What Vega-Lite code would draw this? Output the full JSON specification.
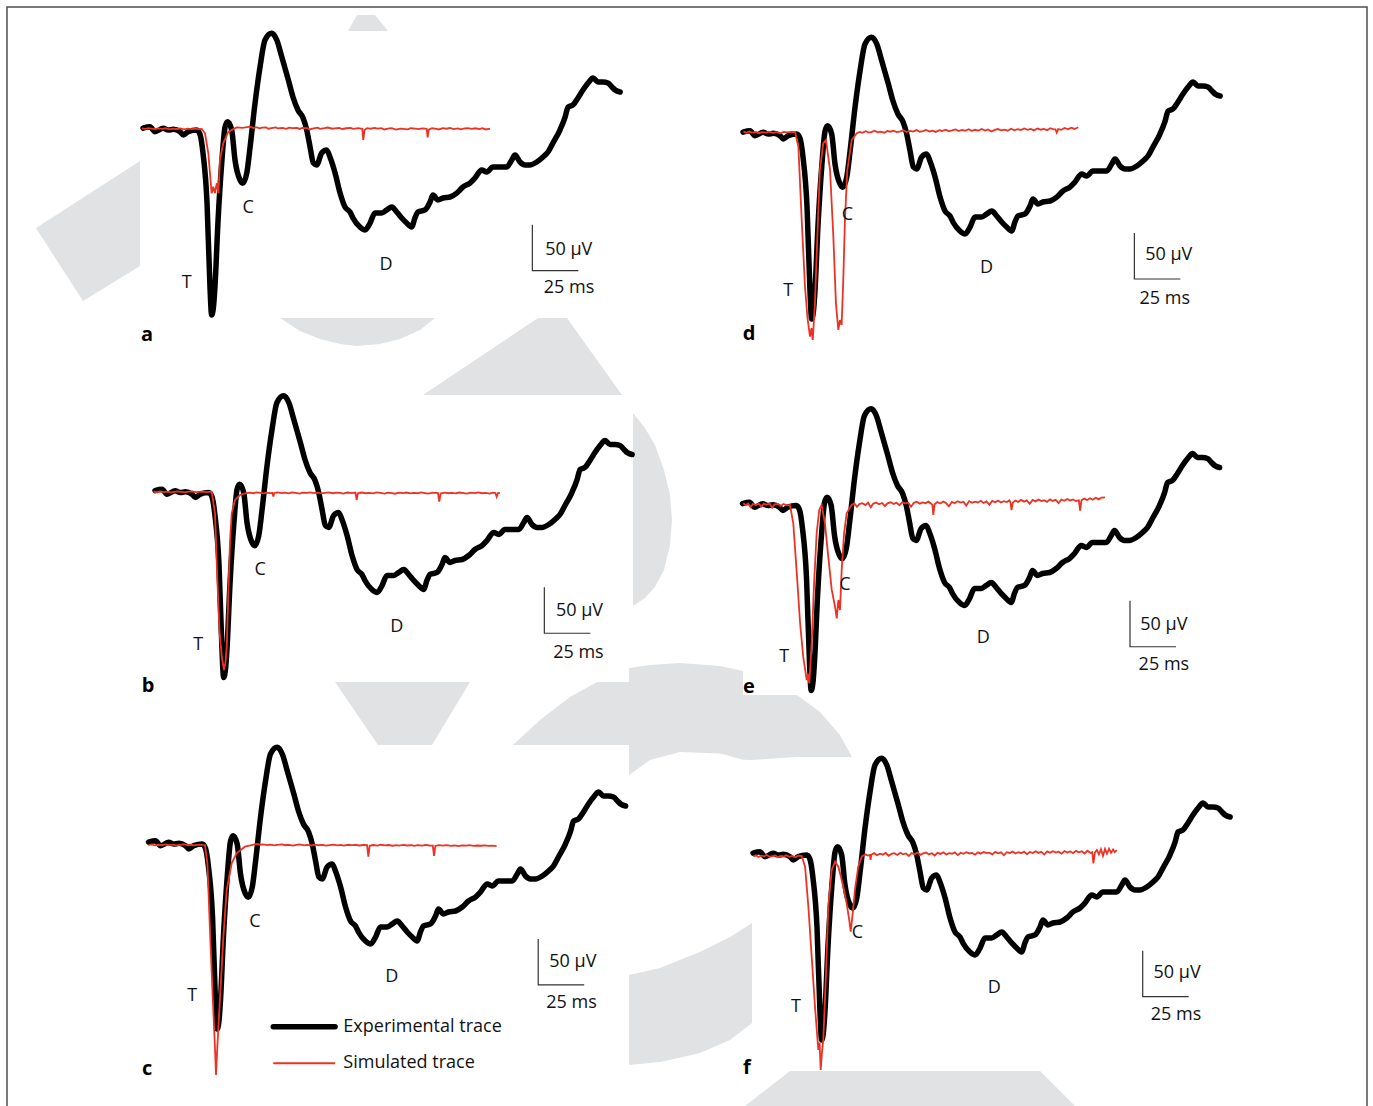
{
  "$schema": "https://vega.github.io/schema/vega-lite/v6.json",
  "padding": 0,
  "background": "#ffffff",
  "columns": 2,
  "spacing": 0,
  "align": "each",
  "bounds": "flush",
  "config": {"view": {"stroke": null}, "font": "Open Sans", "text": {"font": "Open Sans"}},
  "datasets": {
    "exp": [
      {"t":0,"v":1},{"t":3.8,"v":2.5},{"t":6.5,"v":-2.9},{"t":11,"v":0.7},{"t":13.8,"v":-1.1},{"t":16.5,"v":-0.4},{"t":20.1,"v":-2.9},{"t":21.9,"v":-6.5},{"t":24.6,"v":-2.9},{"t":29.2,"v":-1.1},{"t":31,"v":-6},{"t":32.6,"v":-26.1},{"t":34.8,"v":-80.4},{"t":36.4,"v":-171.7},{"t":37.3,"v":-202.2},{"t":38.2,"v":-195},{"t":39.1,"v":-171.7},{"t":40.8,"v":-98.9},{"t":42.9,"v":-33.7},{"t":44.6,"v":2.2},{"t":46,"v":7.9},{"t":48.2,"v":-1.1},{"t":50,"v":-33.7},{"t":52.7,"v":-55.4},{"t":54.2,"v":-59},{"t":56.4,"v":-47.8},{"t":58.2,"v":-19.6},{"t":60.9,"v":28.3},{"t":63.6,"v":67.4},{"t":66.3,"v":96.7},{"t":69.9,"v":104},{"t":72.7,"v":96.7},{"t":75.4,"v":78.6},{"t":79,"v":53.3},{"t":81.5,"v":34.8},{"t":84.2,"v":20.7},{"t":87,"v":12},{"t":89,"v":-1.1},{"t":90.8,"v":-19.6},{"t":92.6,"v":-37},{"t":94.4,"v":-39.1},{"t":97.1,"v":-26.1},{"t":99.8,"v":-22.8},{"t":101.6,"v":-30.4},{"t":104.4,"v":-47.8},{"t":107.1,"v":-69.6},{"t":109.8,"v":-84.8},{"t":112.5,"v":-90.2},{"t":114.1,"v":-96.7},{"t":117.9,"v":-106.5},{"t":120.7,"v":-109.8},{"t":123.4,"v":-102.2},{"t":126.1,"v":-91.3},{"t":129.7,"v":-91.3},{"t":132.5,"v":-88},{"t":135.2,"v":-84.8},{"t":137.9,"v":-90.2},{"t":140.6,"v":-96.7},{"t":143.3,"v":-102.2},{"t":146,"v":-106.5},{"t":147.8,"v":-96.7},{"t":149.5,"v":-90.2},{"t":153.3,"v":-88},{"t":156,"v":-79.4},{"t":157.6,"v":-71.7},{"t":160.3,"v":-77.2},{"t":163,"v":-75},{"t":166.9,"v":-73.9},{"t":170.5,"v":-69.6},{"t":173.9,"v":-63},{"t":177.7,"v":-58.7},{"t":180.4,"v":-53.3},{"t":184.1,"v":-44.6},{"t":186.8,"v":-46.7},{"t":190.2,"v":-41.3},{"t":194,"v":-41.3},{"t":197.7,"v":-41.3},{"t":200.4,"v":-33.7},{"t":202.2,"v":-28.3},{"t":204.9,"v":-35.9},{"t":207.6,"v":-39.1},{"t":210.3,"v":-39.1},{"t":214,"v":-35.9},{"t":217.4,"v":-30.4},{"t":220.1,"v":-25},{"t":222.8,"v":-15.2},{"t":226.6,"v":-1.1},{"t":229.4,"v":13},{"t":231,"v":23.9},{"t":233.7,"v":26.1},{"t":236.4,"v":33.7},{"t":239.1,"v":42.4},{"t":241.9,"v":50},{"t":244.6,"v":55.4},{"t":247.3,"v":51.1},{"t":250,"v":51.1},{"t":252.7,"v":50},{"t":254.9,"v":45.7},{"t":256.6,"v":42.4},{"t":259.3,"v":40.2}
    ]
  },
  "concat": [
    {
      "width": 686,
      "height": 368,
      "encoding": {
        "x": {"field": "t", "type": "quantitative", "scale": {"domain": [-77.72, 295.11], "nice": false, "zero": false}, "axis": null},
        "y": {"field": "v", "type": "quantitative", "scale": {"domain": [-259.78, 140.22], "nice": false, "zero": false}, "axis": null}
      },
      "layer": [
        {"data": {"values": [
          {"g":"A","t":-58.15,"v":-107.61,"v2":-107.61},{"g":"A","t":-32.61,"v":-74.67,"v2":-186.95},{"g":"A","t":-1.63,"v":-34.78,"v2":-148.91},
          {"g":"B","t":111.41,"v":106.52,"v2":106.52},{"g":"B","t":116.3,"v":123.92,"v2":106.52},{"g":"B","t":126.09,"v":123.92,"v2":106.52},{"g":"B","t":133.15,"v":106.52,"v2":106.52},
          {"g":"C","t":74.45,"v":-205.43,"v2":-205.43},{"g":"C","t":85.32,"v":-205.43,"v2":-219.57},{"g":"C","t":96.19,"v":-205.43,"v2":-228.26},{"g":"C","t":107.06,"v":-205.43,"v2":-233.7},{"g":"C","t":116.3,"v":-205.43,"v2":-235.87},{"g":"C","t":128.8,"v":-205.43,"v2":-233.7},{"g":"C","t":139.67,"v":-205.43,"v2":-228.26},{"g":"C","t":150.54,"v":-205.43,"v2":-218.48},{"g":"C","t":158.7,"v":-205.43,"v2":-205.43},
          {"g":"D","t":152.17,"v":-289.13,"v2":-289.13},{"g":"D","t":214.67,"v":-205.43,"v2":-289.13},{"g":"D","t":230.43,"v":-205.43,"v2":-289.13},{"g":"D","t":260.33,"v":-289.13,"v2":-289.13}
        ]}, "mark": {"type": "area", "color": "#e1e2e4", "clip": true}, "encoding": {"y": {"field": "v", "type": "quantitative", "stack": null}, "y2": {"field": "v2"}, "detail": {"field": "g"}}},
        {"data": {"values": [{"k":1,"t":-73.92,"v":-259.78},{"k":2,"t":-73.92,"v":132.6},{"k":3,"t":295.11,"v":132.6}]}, "mark": {"type": "line", "stroke": "#4d4d4d", "strokeWidth": 1.5}, "encoding": {"order": {"field": "k"}}},
        {"data": {"name": "exp"}, "mark": {"type": "line", "stroke": "#000000", "strokeWidth": 5.5, "interpolate": "monotone", "strokeJoin": "round", "strokeCap": "round"}},
        {"data": {"values": [{"t":-0.7,"v":0.8},{"t":1.3,"v":0.2},{"t":2.9,"v":0.9},{"t":4.6,"v":0.4},{"t":6.8,"v":-0.2},{"t":8.3,"v":0.6},{"t":10.5,"v":0.1},{"t":12.2,"v":0.8},{"t":14.4,"v":-0.3},{"t":16.1,"v":0.4},{"t":18.6,"v":0.0},{"t":20.3,"v":0.7},{"t":22.2,"v":-0.4},{"t":24.5,"v":0.3},{"t":26.1,"v":-0.1},{"t":28.4,"v":0.5},{"t":30.2,"v":-0.2},{"t":31.9,"v":0},{"t":33.7,"v":-4.7},{"t":35.5,"v":-26.4},{"t":36.4,"v":-48.2},{"t":37.3,"v":-69.9},{"t":38.2,"v":-62.7},{"t":39.1,"v":-69.6},{"t":40.1,"v":-59},{"t":41,"v":-69.9},{"t":41.8,"v":-33.7},{"t":43.6,"v":-15.5},{"t":46.4,"v":-2.9},{"t":50.9,"v":1.8},{"t":54,"v":1.2},{"t":58.2,"v":2.5},{"t":60.1,"v":1.0},{"t":61.4,"v":1.9},{"t":63.5,"v":0.7},{"t":64.6,"v":1.4},{"t":66.9,"v":1.6},{"t":68.2,"v":0.3},{"t":70.6,"v":1.2},{"t":72.1,"v":1.8},{"t":73.3,"v":0.6},{"t":75.8,"v":1.1},{"t":77.9,"v":0.2},{"t":79.4,"v":1.5},{"t":81.2,"v":0.9},{"t":83.7,"v":1.3},{"t":85.1,"v":0.1},{"t":86.6,"v":1.2},{"t":89.3,"v":1.0},{"t":90.5,"v":-0.5},{"t":92.8,"v":0.8},{"t":94.9,"v":1.4},{"t":96.2,"v":0.2},{"t":98.7,"v":0.9},{"t":100.4,"v":1.6},{"t":102.9,"v":0.3},{"t":104.1,"v":0.7},{"t":106.6,"v":1.1},{"t":108.3,"v":0.0},{"t":110.5,"v":0.8},{"t":112.8,"v":1.3},{"t":114.2,"v":0.2},{"t":116.9,"v":0.9},{"t":118.5,"v":0.4},{"t":119.2,"v":0.2},{"t":119.7,"v":-12},{"t":120.4,"v":-1},{"t":121.8,"v":0.9},{"t":123.5,"v":0.3},{"t":125.9,"v":1.2},{"t":127.4,"v":0.4},{"t":129.6,"v":0.9},{"t":131.1,"v":-0.5},{"t":133.8,"v":0.6},{"t":135.2,"v":1.0},{"t":137.4,"v":-0.6},{"t":139.9,"v":0.5},{"t":141.3,"v":0.2},{"t":143.8,"v":-0.4},{"t":145.5,"v":0.8},{"t":147.9,"v":0.3},{"t":149.6,"v":-0.2},{"t":151.8,"v":0.7},{"t":153.5,"v":0.4},{"t":154.2,"v":0},{"t":154.7,"v":-9.1},{"t":155.3,"v":-0.8},{"t":157.1,"v":0.8},{"t":159.4,"v":0.1},{"t":160.8,"v":-0.5},{"t":162.9,"v":0.9},{"t":165.1,"v":0.3},{"t":166.7,"v":1.1},{"t":168.8,"v":-0.1},{"t":171.2,"v":0.7},{"t":172.6,"v":-0.4},{"t":174.9,"v":0.6},{"t":176.5,"v":1.0},{"t":178.8,"v":0.1},{"t":180.6,"v":0.8},{"t":182.9,"v":-0.2},{"t":184.4,"v":0.9},{"t":186.3,"v":-0.5},{"t":188.6,"v":0.5}]}, "mark": {"type": "line", "stroke": "#ec3323", "strokeWidth": 1.8}},
        {"data": {"values": [{"k":1,"t":211.6,"v":-104},{"k":2,"t":211.6,"v":-154},{"k":3,"t":236.6,"v":-154}]}, "mark": {"type": "line", "stroke": "#333333", "strokeWidth": 1.2}, "encoding": {"order": {"field": "k"}}},
        {"data": {"values": [{"s":"T","t":23.7,"v":-167.7},{"s":"C","t":57.2,"v":-86.2},{"s":"D","t":132.1,"v":-147.8},{"s":"50 µV","t":231.4,"v":-131.5},{"s":"25 ms","t":231.5,"v":-173.2}]}, "mark": {"type": "text", "fontSize": 18, "color": "#111111", "baseline": "middle"}, "encoding": {"text": {"field": "s"}}},
        {"data": {"values": [{"s":"a","t":2.2,"v":-223.9}]}, "mark": {"type": "text", "fontSize": 20, "fontWeight": "bold", "color": "#000000", "baseline": "middle"}, "encoding": {"text": {"field": "s"}}}
      ]
    },
    {
      "width": 687,
      "height": 368,
      "encoding": {
        "x": {"field": "t", "type": "quantitative", "scale": {"domain": [-30.98, 342.39], "nice": false, "zero": false}, "axis": null},
        "y": {"field": "v", "type": "quantitative", "scale": {"domain": [-255.43, 144.57], "nice": false, "zero": false}, "axis": null}
      },
      "layer": [
        {"data": {"values": [{"k":1,"t":-30.98,"v":136.96},{"k":2,"t":339.13,"v":136.96},{"k":3,"t":339.13,"v":-255.43}]}, "mark": {"type": "line", "stroke": "#4d4d4d", "strokeWidth": 1.5}, "encoding": {"order": {"field": "k"}}},
        {"data": {"name": "exp"}, "mark": {"type": "line", "stroke": "#000000", "strokeWidth": 5.5, "interpolate": "monotone", "strokeJoin": "round", "strokeCap": "round"}},
        {"data": {"values": [{"t":0.2,"v":1.4},{"t":1.9,"v":0.3},{"t":3.3,"v":1.6},{"t":5.2,"v":0.5},{"t":6.8,"v":1.2},{"t":8.7,"v":-0.2},{"t":10.3,"v":1.0},{"t":12.6,"v":0.4},{"t":14.1,"v":1.5},{"t":16.4,"v":0.2},{"t":18.0,"v":0.9},{"t":20.3,"v":-0.4},{"t":22.1,"v":1.1},{"t":24.4,"v":0.6},{"t":26.0,"v":1.3},{"t":28.3,"v":1.1},{"t":30.1,"v":-14.9},{"t":31.9,"v":-94.6},{"t":33.7,"v":-167.1},{"t":35,"v":-200},{"t":36.4,"v":-221.4},{"t":37.2,"v":-212},{"t":37.9,"v":-225},{"t":39.1,"v":-185.1},{"t":40.4,"v":-112.7},{"t":41.8,"v":-40.2},{"t":43.6,"v":-11.2},{"t":45.1,"v":-7.6},{"t":47.3,"v":-40.2},{"t":49.1,"v":-112.7},{"t":50.5,"v":-185.1},{"t":51.8,"v":-214.1},{"t":52.7,"v":-203.3},{"t":53.6,"v":-208.7},{"t":54.5,"v":-159.8},{"t":55.4,"v":-94.6},{"t":56.7,"v":-40.2},{"t":59.1,"v":-7.6},{"t":61.8,"v":-0.3},{"t":63.4,"v":1.2},{"t":64.9,"v":0.2},{"t":66.7,"v":1.9},{"t":68.1,"v":0.6},{"t":69.8,"v":0.9},{"t":71.5,"v":2.4},{"t":73.2,"v":0.8},{"t":74.6,"v":1.5},{"t":76.9,"v":0.3},{"t":78.4,"v":2.2},{"t":80.1,"v":1.4},{"t":81.7,"v":2.6},{"t":83.5,"v":0.9},{"t":85.6,"v":1.8},{"t":87.2,"v":2.9},{"t":88.8,"v":1.1},{"t":90.9,"v":2.3},{"t":92.4,"v":1.6},{"t":94.3,"v":3.2},{"t":96.0,"v":1.4},{"t":97.9,"v":2.0},{"t":99.5,"v":3.4},{"t":101.3,"v":1.7},{"t":103.0,"v":2.6},{"t":104.8,"v":1.2},{"t":106.6,"v":3.1},{"t":108.1,"v":2.2},{"t":110.2,"v":3.6},{"t":112.0,"v":1.9},{"t":113.7,"v":2.8},{"t":115.5,"v":3.9},{"t":117.3,"v":2.1},{"t":119.0,"v":3.3},{"t":120.8,"v":2.5},{"t":122.6,"v":4.2},{"t":124.3,"v":2.4},{"t":126.1,"v":3.5},{"t":128.0,"v":2.7},{"t":129.7,"v":4.4},{"t":131.5,"v":2.6},{"t":133.2,"v":3.8},{"t":135.0,"v":1.6},{"t":136.8,"v":3.4},{"t":138.5,"v":4.3},{"t":140.3,"v":2.9},{"t":142.1,"v":3.7},{"t":143.9,"v":2.5},{"t":145.7,"v":4.6},{"t":147.5,"v":3.0},{"t":149.2,"v":4.1},{"t":151.0,"v":3.3},{"t":152.8,"v":5.0},{"t":154.6,"v":3.4},{"t":156.4,"v":4.5},{"t":158.1,"v":2.8},{"t":159.9,"v":4.9},{"t":161.7,"v":3.6},{"t":163.5,"v":4.4},{"t":165.3,"v":3.1},{"t":167.0,"v":5.2},{"t":168.8,"v":3.9},{"t":169.8,"v":4.0},{"t":170.5,"v":0.5},{"t":171.3,"v":4.2},{"t":173.0,"v":3.5},{"t":174.8,"v":5.4},{"t":176.6,"v":4.0},{"t":178.4,"v":5.8},{"t":180.2,"v":4.4},{"t":182.2,"v":6.2}]}, "mark": {"type": "line", "stroke": "#ec3323", "strokeWidth": 1.8}},
        {"data": {"values": [{"k":1,"t":212.7,"v":-108.7},{"k":2,"t":212.7,"v":-158.7},{"k":3,"t":237.7,"v":-158.7}]}, "mark": {"type": "line", "stroke": "#333333", "strokeWidth": 1.2}, "encoding": {"order": {"field": "k"}}},
        {"data": {"values": [{"s":"T","t":24.6,"v":-171.4},{"s":"C","t":56.7,"v":-89.1},{"s":"D","t":132.4,"v":-147.1},{"s":"50 µV","t":231.4,"v":-132.6},{"s":"25 ms","t":229.2,"v":-180.4}]}, "mark": {"type": "text", "fontSize": 18, "color": "#111111", "baseline": "middle"}, "encoding": {"text": {"field": "s"}}},
        {"data": {"values": [{"s":"d","t":3.3,"v":-218.5}]}, "mark": {"type": "text", "fontSize": 20, "fontWeight": "bold", "color": "#000000", "baseline": "middle"}, "encoding": {"text": {"field": "s"}}}
      ]
    },
    {
      "width": 686,
      "height": 369,
      "encoding": {
        "x": {"field": "t", "type": "quantitative", "scale": {"domain": [-84.24, 288.59], "nice": false, "zero": false}, "axis": null},
        "y": {"field": "v", "type": "quantitative", "scale": {"domain": [-266.85, 134.24], "nice": false, "zero": false}, "axis": null}
      },
      "layer": [
        {"data": {"values": [
          {"g":"D","t":145.65,"v":104.89,"v2":104.89},{"g":"D","t":208.15,"v":188.59,"v2":104.89},{"g":"D","t":223.91,"v":188.59,"v2":104.89},{"g":"D","t":253.81,"v":104.89,"v2":104.89},
          {"g":"E","t":259.78,"v":85.33,"v2":-124.46},{"g":"E","t":266.3,"v":69.02,"v2":-115.76},{"g":"E","t":271.74,"v":50.54,"v2":-103.8},{"g":"E","t":276.63,"v":23.37,"v2":-85.33},{"g":"E","t":279.89,"v":-3.8,"v2":-58.15},{"g":"E","t":280.98,"v":-30.98,"v2":-30.98},
          {"g":"F","t":97.83,"v":-207.06,"v2":-207.06},{"g":"F","t":121.2,"v":-207.06,"v2":-275.54},{"g":"F","t":150.55,"v":-207.06,"v2":-275.54},{"g":"F","t":171.2,"v":-207.06,"v2":-207.06},
          {"g":"G1","t":194.56,"v":-275.54,"v2":-275.54},{"g":"G1","t":209.24,"v":-248.37,"v2":-275.54},{"g":"G1","t":225.54,"v":-223.37,"v2":-275.54},{"g":"G1","t":240.22,"v":-207.06,"v2":-275.54},{"g":"G1","t":257.61,"v":-207.06,"v2":-275.54},
          {"g":"G2","t":257.61,"v":-191.85,"v2":-308.15},{"g":"G2","t":269.02,"v":-188.59,"v2":-291.85},{"g":"G2","t":285.33,"v":-186.41,"v2":-283.15},{"g":"G2","t":307.06,"v":-189.67,"v2":-284.78},{"g":"G2","t":319.56,"v":-195.11,"v2":-291.63}
        ]}, "mark": {"type": "area", "color": "#e1e2e4", "clip": true}, "encoding": {"y": {"field": "v", "type": "quantitative", "stack": null}, "y2": {"field": "v2"}, "detail": {"field": "g"}}},
        {"data": {"values": [{"k":1,"t":-80.44,"v":134.24},{"k":2,"t":-80.44,"v":-266.85}]}, "mark": {"type": "line", "stroke": "#4d4d4d", "strokeWidth": 1.5}, "encoding": {"order": {"field": "k"}}},
        {"data": {"name": "exp"}, "mark": {"type": "line", "stroke": "#000000", "strokeWidth": 5.5, "interpolate": "monotone", "strokeJoin": "round", "strokeCap": "round"}},
        {"data": {"values": [{"t":-0.9,"v":-0.2},{"t":1.2,"v":-0.8},{"t":2.8,"v":0.1},{"t":4.9,"v":-0.6},{"t":6.3,"v":-0.1},{"t":8.6,"v":-0.9},{"t":10.4,"v":-0.3},{"t":12.1,"v":0.2},{"t":14.5,"v":-0.5},{"t":16.0,"v":-1.0},{"t":18.3,"v":-0.2},{"t":20.2,"v":0.1},{"t":22.4,"v":-0.7},{"t":24.1,"v":-0.3},{"t":26.5,"v":0.0},{"t":28.2,"v":-0.6},{"t":30.8,"v":-0.2},{"t":32.6,"v":-23.7},{"t":33.9,"v":-96.2},{"t":35,"v":-150.5},{"t":36.3,"v":-179.6},{"t":37.5,"v":-194},{"t":38.3,"v":-186},{"t":39,"v":-168.7},{"t":39.8,"v":-114.3},{"t":40.8,"v":-52.7},{"t":41.7,"v":-23.7},{"t":43.5,"v":-9.2},{"t":46.2,"v":-3.8},{"t":48.5,"v":-2.2},{"t":51.6,"v":-1.3},{"t":53.4,"v":-1.9},{"t":55.1,"v":-1.0},{"t":57.3,"v":-1.6},{"t":58.9,"v":-2.1},{"t":60.7,"v":-1.2},{"t":62.5,"v":-1.7},{"t":63.8,"v":-1.5},{"t":64.3,"v":-5.6},{"t":64.8,"v":-1.6},{"t":66.6,"v":-1.0},{"t":68.9,"v":-1.8},{"t":70.4,"v":-1.3},{"t":72.8,"v":-2.0},{"t":74.3,"v":-1.1},{"t":76.5,"v":-1.6},{"t":78.6,"v":-2.2},{"t":80.1,"v":-1.2},{"t":82.7,"v":-1.5},{"t":84.4,"v":-0.9},{"t":86.2,"v":-1.8},{"t":88.5,"v":-1.3},{"t":90.1,"v":-2.1},{"t":92.6,"v":-1.4},{"t":94.2,"v":-1.0},{"t":96.8,"v":-1.9},{"t":98.3,"v":-1.2},{"t":100.7,"v":-1.6},{"t":102.2,"v":-2.3},{"t":104.6,"v":-1.1},{"t":106.9,"v":-1.7},{"t":108.9,"v":-1.2},{"t":109.6,"v":-9.2},{"t":110.3,"v":-1.8},{"t":112.1,"v":-1.1},{"t":114.6,"v":-1.9},{"t":116.2,"v":-1.4},{"t":118.7,"v":-2.0},{"t":120.3,"v":-1.0},{"t":122.5,"v":-1.6},{"t":124.8,"v":-2.2},{"t":126.4,"v":-1.3},{"t":128.9,"v":-1.7},{"t":130.5,"v":-2.4},{"t":132.6,"v":-1.2},{"t":134.9,"v":-1.8},{"t":136.5,"v":-1.1},{"t":138.8,"v":-2.0},{"t":140.6,"v":-1.4},{"t":142.9,"v":-1.9},{"t":144.4,"v":-1.0},{"t":146.8,"v":-1.7},{"t":148.5,"v":-2.2},{"t":150.7,"v":-1.3},{"t":152.4,"v":-1.6},{"t":153.8,"v":-1.8},{"t":154.5,"v":-11},{"t":155.2,"v":-2.2},{"t":157.3,"v":-1.2},{"t":159.6,"v":-1.9},{"t":161.2,"v":-1.4},{"t":163.5,"v":-2.1},{"t":165.3,"v":-1.1},{"t":167.8,"v":-1.7},{"t":169.4,"v":-2.3},{"t":171.6,"v":-1.3},{"t":173.9,"v":-1.8},{"t":175.5,"v":-1.0},{"t":177.8,"v":-1.9},{"t":179.6,"v":-1.4},{"t":181.9,"v":-2.2},{"t":183.5,"v":-1.2},{"t":185.0,"v":-1.7},{"t":185.7,"v":-5.7},{"t":186.4,"v":-1.8},{"t":187.5,"v":-1.5}]}, "mark": {"type": "line", "stroke": "#ec3323", "strokeWidth": 1.8}},
        {"data": {"values": [{"k":1,"t":211.6,"v":-104.1},{"k":2,"t":211.6,"v":-154.1},{"k":3,"t":236.6,"v":-154.1}]}, "mark": {"type": "line", "stroke": "#333333", "strokeWidth": 1.2}, "encoding": {"order": {"field": "k"}}},
        {"data": {"values": [{"s":"T","t":23.5,"v":-166.8},{"s":"C","t":57.1,"v":-85.3},{"s":"D","t":131.4,"v":-147},{"s":"50 µV","t":230.7,"v":-129.6},{"s":"25 ms","t":230.1,"v":-175.2}]}, "mark": {"type": "text", "fontSize": 18, "color": "#111111", "baseline": "middle"}, "encoding": {"text": {"field": "s"}}},
        {"data": {"values": [{"s":"b","t":-3.8,"v":-211.4}]}, "mark": {"type": "text", "fontSize": 20, "fontWeight": "bold", "color": "#000000", "baseline": "middle"}, "encoding": {"text": {"field": "s"}}}
      ]
    },
    {
      "width": 687,
      "height": 369,
      "encoding": {
        "x": {"field": "t", "type": "quantitative", "scale": {"domain": [-30.71, 342.66], "nice": false, "zero": false}, "axis": null},
        "y": {"field": "v", "type": "quantitative", "scale": {"domain": [-252.72, 148.37], "nice": false, "zero": false}, "axis": null}
      },
      "layer": [
        {"data": {"values": [
          {"g":"G2","t":-61.69,"v":-177.72,"v2":-294.02},{"g":"G2","t":-50.28,"v":-174.46,"v2":-277.72},{"g":"G2","t":-33.97,"v":-172.28,"v2":-269.02},{"g":"G2","t":-12.23,"v":-175.54,"v2":-270.65},{"g":"G2","t":0.27,"v":-180.98,"v2":-277.5},
          {"g":"G3","t":0.27,"v":-207.06,"v2":-277.5},{"g":"G3","t":5.16,"v":-207.06,"v2":-277.72},{"g":"G3","t":29.62,"v":-207.06,"v2":-274.46},{"g":"G3","t":42.12,"v":-225.54,"v2":-274.46},{"g":"G3","t":52.99,"v":-250.54,"v2":-274.46},{"g":"G3","t":59.51,"v":-274.46,"v2":-274.46}
        ]}, "mark": {"type": "area", "color": "#e1e2e4", "clip": true}, "encoding": {"y": {"field": "v", "type": "quantitative", "stack": null}, "y2": {"field": "v2"}, "detail": {"field": "g"}}},
        {"data": {"values": [{"k":1,"t":339.4,"v":148.37},{"k":2,"t":339.4,"v":-252.72}]}, "mark": {"type": "line", "stroke": "#4d4d4d", "strokeWidth": 1.5}, "encoding": {"order": {"field": "k"}}},
        {"data": {"name": "exp"}, "mark": {"type": "line", "stroke": "#000000", "strokeWidth": 5.5, "interpolate": "monotone", "strokeJoin": "round", "strokeCap": "round"}},
        {"data": {"values": [{"t":0.4,"v":1.3},{"t":1.7,"v":-0.8},{"t":3.1,"v":1.0},{"t":4.4,"v":-2.9},{"t":5.6,"v":0.6},{"t":7.3,"v":-0.5},{"t":8.9,"v":0.8},{"t":10.2,"v":-2.2},{"t":11.6,"v":0.9},{"t":13.0,"v":-0.3},{"t":14.7,"v":1.1},{"t":16.1,"v":-3.4},{"t":17.4,"v":0.2},{"t":19.2,"v":0.7},{"t":20.8,"v":-1.6},{"t":22.3,"v":0.5},{"t":24.0,"v":-0.9},{"t":25.8,"v":-0.5},{"t":27.6,"v":-20.4},{"t":29.5,"v":-74.8},{"t":31.3,"v":-129.1},{"t":33,"v":-165.4},{"t":34.9,"v":-190.8},{"t":35.6,"v":-184},{"t":36.3,"v":-194.3},{"t":37.6,"v":-150.9},{"t":38.9,"v":-85.7},{"t":40.3,"v":-31.3},{"t":41.7,"v":-6},{"t":43,"v":-0.5},{"t":44.8,"v":-20.4},{"t":46.6,"v":-56.7},{"t":48.5,"v":-92.9},{"t":50.3,"v":-111.1},{"t":51.2,"v":-123.7},{"t":52.1,"v":-103.8},{"t":53,"v":-114.7},{"t":53.9,"v":-71.2},{"t":55.2,"v":-31.3},{"t":56.6,"v":-9.6},{"t":59.3,"v":-0.5},{"t":60.8,"v":1.2},{"t":62.2,"v":-2.6},{"t":63.5,"v":0.4},{"t":65.1,"v":1.5},{"t":66.8,"v":-0.6},{"t":68.3,"v":1.9},{"t":69.7,"v":-3.1},{"t":71.0,"v":0.9},{"t":72.6,"v":2.1},{"t":74.2,"v":0.3},{"t":75.9,"v":1.6},{"t":77.4,"v":-1.8},{"t":78.8,"v":1.2},{"t":80.5,"v":2.4},{"t":82.1,"v":0.6},{"t":83.7,"v":1.9},{"t":85.3,"v":-0.8},{"t":86.9,"v":2.6},{"t":88.4,"v":1.0},{"t":90.0,"v":2.2},{"t":91.6,"v":-2.4},{"t":93.1,"v":1.8},{"t":94.7,"v":3.0},{"t":96.3,"v":0.9},{"t":97.9,"v":2.3},{"t":99.4,"v":1.4},{"t":101.0,"v":3.1},{"t":102.6,"v":0.8},{"t":103.2,"v":-0.5},{"t":103.7,"v":-11.4},{"t":104.4,"v":0.3},{"t":105.9,"v":2.7},{"t":107.5,"v":1.1},{"t":109.1,"v":3.3},{"t":110.6,"v":1.6},{"t":112.2,"v":-1.9},{"t":113.8,"v":2.9},{"t":115.3,"v":1.4},{"t":116.9,"v":3.5},{"t":118.5,"v":2.0},{"t":120.1,"v":3.0},{"t":121.6,"v":-1.2},{"t":123.2,"v":3.7},{"t":124.8,"v":1.8},{"t":126.3,"v":3.1},{"t":127.9,"v":2.2},{"t":129.5,"v":4.0},{"t":131.0,"v":1.7},{"t":132.6,"v":3.4},{"t":134.2,"v":-0.4},{"t":135.7,"v":3.9},{"t":137.3,"v":2.4},{"t":138.9,"v":4.3},{"t":140.4,"v":2.1},{"t":142.0,"v":3.6},{"t":143.6,"v":2.7},{"t":145.1,"v":4.5},{"t":145.7,"v":2.0},{"t":146.2,"v":-6},{"t":146.9,"v":2.0},{"t":148.3,"v":4.2},{"t":149.8,"v":2.8},{"t":151.4,"v":5.0},{"t":153.0,"v":3.1},{"t":154.5,"v":4.4},{"t":156.1,"v":0.8},{"t":157.7,"v":4.9},{"t":159.2,"v":3.4},{"t":160.8,"v":5.3},{"t":162.4,"v":3.7},{"t":163.9,"v":4.6},{"t":165.5,"v":2.9},{"t":167.1,"v":5.6},{"t":168.6,"v":3.9},{"t":170.2,"v":5.0},{"t":171.8,"v":1.5},{"t":173.3,"v":5.4},{"t":174.9,"v":4.1},{"t":176.5,"v":6.0},{"t":178.0,"v":4.3},{"t":179.6,"v":5.5},{"t":181.2,"v":3.8},{"t":182.8,"v":4.5},{"t":183.5,"v":-6.8},{"t":184.2,"v":4.6},{"t":185.7,"v":6.4},{"t":187.3,"v":4.9},{"t":188.9,"v":6.8},{"t":190.4,"v":5.1},{"t":192.0,"v":7.3},{"t":193.6,"v":5.6},{"t":195.1,"v":7.5},{"t":197.0,"v":7.8}]}, "mark": {"type": "line", "stroke": "#ec3323", "strokeWidth": 1.8}},
        {"data": {"values": [{"k":1,"t":210.6,"v":-104.6},{"k":2,"t":210.6,"v":-154.6},{"k":3,"t":235.6,"v":-154.6}]}, "mark": {"type": "line", "stroke": "#333333", "strokeWidth": 1.2}, "encoding": {"order": {"field": "k"}}},
        {"data": {"values": [{"s":"T","t":22.6,"v":-165.4},{"s":"C","t":55.7,"v":-87.5},{"s":"D","t":130.9,"v":-145.4},{"s":"50 µV","t":229,"v":-131},{"s":"25 ms","t":229,"v":-174.5}]}, "mark": {"type": "text", "fontSize": 18, "color": "#111111", "baseline": "middle"}, "encoding": {"text": {"field": "s"}}},
        {"data": {"values": [{"s":"e","t":3.5,"v":-198.4}]}, "mark": {"type": "text", "fontSize": 20, "fontWeight": "bold", "color": "#000000", "baseline": "middle"}, "encoding": {"text": {"field": "s"}}}
      ]
    },
    {
      "width": 686,
      "height": 369,
      "encoding": {
        "x": {"field": "t", "type": "quantitative", "scale": {"domain": [-80.71, 292.12], "nice": false, "zero": false}, "axis": null},
        "y": {"field": "v", "type": "quantitative", "scale": {"domain": [-285.87, 115.22], "nice": false, "zero": false}, "axis": null}
      },
      "layer": [
        {"data": {"values": [
          {"g":"F","t":101.36,"v":175.0,"v2":175.0},{"g":"F","t":124.73,"v":175.0,"v2":106.52},{"g":"F","t":154.08,"v":175.0,"v2":106.52},{"g":"F","t":174.73,"v":175.0,"v2":175.0},
          {"g":"G1","t":198.09,"v":106.52,"v2":106.52},{"g":"G1","t":212.77,"v":133.7,"v2":106.52},{"g":"G1","t":229.07,"v":158.7,"v2":106.52},{"g":"G1","t":243.75,"v":175.0,"v2":106.52},{"g":"G1","t":261.14,"v":175.0,"v2":106.52},
          {"g":"G2","t":261.14,"v":190.22,"v2":73.92},{"g":"G2","t":272.55,"v":193.48,"v2":90.22},{"g":"G2","t":288.86,"v":195.65,"v2":98.92},{"g":"G2","t":310.59,"v":192.39,"v2":97.28},{"g":"G2","t":323.09,"v":186.96,"v2":90.43},
          {"g":"GB","t":261.14,"v":-143.48,"v2":-241.3},{"g":"GB","t":277.99,"v":-135.87,"v2":-238.04},{"g":"GB","t":299.72,"v":-118.48,"v2":-228.26},{"g":"GB","t":316.03,"v":-102.17,"v2":-214.13},{"g":"GB","t":327.99,"v":-87.0,"v2":-195.65}
        ]}, "mark": {"type": "area", "color": "#e1e2e4", "clip": true}, "encoding": {"y": {"field": "v", "type": "quantitative", "stack": null}, "y2": {"field": "v2"}, "detail": {"field": "g"}}},
        {"data": {"values": [{"k":1,"t":-76.91,"v":115.22},{"k":2,"t":-76.91,"v":-285.87}]}, "mark": {"type": "line", "stroke": "#4d4d4d", "strokeWidth": 1.5}, "encoding": {"order": {"field": "k"}}},
        {"data": {"name": "exp"}, "mark": {"type": "line", "stroke": "#000000", "strokeWidth": 5.5, "interpolate": "monotone", "strokeJoin": "round", "strokeCap": "round"}},
        {"data": {"values": [{"t":-0.1,"v":-2.2},{"t":1.8,"v":-1.6},{"t":3.4,"v":-2.5},{"t":5.6,"v":-1.9},{"t":7.1,"v":-2.4},{"t":9.3,"v":-1.5},{"t":11.2,"v":-2.2},{"t":13.5,"v":-1.8},{"t":15.0,"v":-2.6},{"t":17.2,"v":-2.0},{"t":19.1,"v":-1.4},{"t":21.4,"v":-2.3},{"t":23.0,"v":-1.9},{"t":25.3,"v":-2.6},{"t":27.1,"v":-1.7},{"t":29.0,"v":-2.1},{"t":30.7,"v":-2.2},{"t":32,"v":-22.1},{"t":33.4,"v":-94.6},{"t":34.9,"v":-167.1},{"t":36.1,"v":-221.4},{"t":36.7,"v":-252.2},{"t":37.4,"v":-221.4},{"t":38.9,"v":-167.1},{"t":40.7,"v":-101.8},{"t":42.5,"v":-51.1},{"t":45.2,"v":-22.1},{"t":47.9,"v":-11.2},{"t":52.4,"v":-4},{"t":58.8,"v":-1.1},{"t":60.6,"v":-1.9},{"t":62.3,"v":-1.5},{"t":64.7,"v":-2.3},{"t":66.2,"v":-1.7},{"t":68.5,"v":-2.6},{"t":70.1,"v":-2.0},{"t":72.6,"v":-1.6},{"t":74.4,"v":-2.4},{"t":76.0,"v":-1.9},{"t":78.3,"v":-2.8},{"t":80.5,"v":-2.1},{"t":82.2,"v":-1.6},{"t":84.6,"v":-2.5},{"t":86.1,"v":-2.0},{"t":88.7,"v":-2.7},{"t":90.4,"v":-1.8},{"t":92.2,"v":-2.4},{"t":94.8,"v":-2.0},{"t":96.3,"v":-2.9},{"t":98.6,"v":-2.2},{"t":100.2,"v":-1.7},{"t":102.7,"v":-2.5},{"t":104.5,"v":-2.1},{"t":106.1,"v":-2.8},{"t":108.6,"v":-1.9},{"t":110.3,"v":-2.4},{"t":112.9,"v":-2.0},{"t":114.4,"v":-2.7},{"t":116.7,"v":-2.2},{"t":118.8,"v":-2.4},{"t":119.5,"v":-14.9},{"t":120.2,"v":-3.0},{"t":122.1,"v":-2.2},{"t":124.5,"v":-2.8},{"t":126.2,"v":-1.9},{"t":128.7,"v":-2.6},{"t":130.3,"v":-2.2},{"t":132.8,"v":-3.0},{"t":134.5,"v":-2.3},{"t":136.2,"v":-2.8},{"t":138.7,"v":-2.0},{"t":140.4,"v":-2.7},{"t":142.9,"v":-2.3},{"t":144.6,"v":-3.1},{"t":146.3,"v":-2.4},{"t":148.8,"v":-2.9},{"t":150.5,"v":-2.1},{"t":152.7,"v":-2.7},{"t":154.5,"v":-2.8},{"t":155.2,"v":-14.1},{"t":155.9,"v":-3.2},{"t":157.8,"v":-2.4},{"t":160.3,"v":-2.9},{"t":162.0,"v":-2.3},{"t":164.5,"v":-3.1},{"t":166.1,"v":-2.6},{"t":168.6,"v":-3.3},{"t":170.3,"v":-2.5},{"t":172.8,"v":-2.9},{"t":174.4,"v":-2.4},{"t":176.9,"v":-3.2},{"t":178.5,"v":-2.7},{"t":180.8,"v":-3.0},{"t":182.6,"v":-2.5},{"t":184.9,"v":-3.2},{"t":187.0,"v":-2.8},{"t":189.2,"v":-3.3}]}, "mark": {"type": "line", "stroke": "#ec3323", "strokeWidth": 1.8}},
        {"data": {"values": [{"k":1,"t":211.8,"v":-104.3},{"k":2,"t":211.8,"v":-154.3},{"k":3,"t":236.8,"v":-154.3}]}, "mark": {"type": "line", "stroke": "#333333", "strokeWidth": 1.2}, "encoding": {"order": {"field": "k"}}},
        {"data": {"values": [{"s":"T","t":23.8,"v":-166},{"s":"C","t":57.9,"v":-85.5},{"s":"D","t":132.2,"v":-145.3},{"s":"50 µV","t":230.6,"v":-129.7},{"s":"25 ms","t":229.9,"v":-173.6}]}, "mark": {"type": "text", "fontSize": 18, "color": "#111111", "baseline": "middle"}, "encoding": {"text": {"field": "s"}}},
        {"data": {"values": [{"t":67.8,"v":-199.7},{"t":101.4,"v":-199.7}]}, "mark": {"type": "line", "stroke": "#000000", "strokeWidth": 5.5, "strokeCap": "round"}},
        {"data": {"values": [{"t":67.8,"v":-239.5},{"t":101.4,"v":-239.5}]}, "mark": {"type": "line", "stroke": "#ec3323", "strokeWidth": 2}},
        {"data": {"values": [{"s":"Experimental trace","t":105.9,"v":-199.7},{"s":"Simulated trace","t":105.9,"v":-239.5}]}, "mark": {"type": "text", "fontSize": 18, "align": "left", "color": "#111111", "baseline": "middle"}, "encoding": {"text": {"field": "s"}}},
        {"data": {"values": [{"s":"c","t":-0.8,"v":-245.7}]}, "mark": {"type": "text", "fontSize": 20, "fontWeight": "bold", "color": "#000000", "baseline": "middle"}, "encoding": {"text": {"field": "s"}}}
      ]
    },
    {
      "width": 687,
      "height": 369,
      "encoding": {
        "x": {"field": "t", "type": "quantitative", "scale": {"domain": [-36.41, 336.96], "nice": false, "zero": false}, "axis": null},
        "y": {"field": "v", "type": "quantitative", "scale": {"domain": [-273.92, 127.17], "nice": false, "zero": false}, "axis": null}
      },
      "layer": [
        {"data": {"values": [
          {"g":"G2","t":-67.39,"v":202.17,"v2":85.87},{"g":"G2","t":-55.98,"v":205.43,"v2":102.17},{"g":"G2","t":-39.67,"v":207.61,"v2":110.87},{"g":"G2","t":-17.93,"v":204.35,"v2":109.24},{"g":"G2","t":-5.43,"v":198.91,"v2":102.39},
          {"g":"G3","t":-5.43,"v":172.82,"v2":102.39},{"g":"G3","t":-0.54,"v":172.82,"v2":102.17},{"g":"G3","t":23.92,"v":172.82,"v2":105.43},{"g":"G3","t":36.42,"v":154.34,"v2":105.43},{"g":"G3","t":47.29,"v":129.34,"v2":105.43},{"g":"G3","t":53.81,"v":105.43,"v2":105.43},
          {"g":"GB","t":-67.39,"v":-131.53,"v2":-229.35},{"g":"GB","t":-50.54,"v":-123.92,"v2":-226.09},{"g":"GB","t":-28.8,"v":-106.53,"v2":-216.31},{"g":"GB","t":-12.5,"v":-90.22,"v2":-202.18},{"g":"GB","t":-0.54,"v":-75.05,"v2":-183.7},
          {"g":"H","t":-4.34,"v":-273.92,"v2":-273.92},{"g":"H","t":20.11,"v":-235.87,"v2":-273.92},{"g":"H","t":155.98,"v":-235.87,"v2":-273.92},{"g":"H","t":175.0,"v":-273.92,"v2":-273.92}
        ]}, "mark": {"type": "area", "color": "#e1e2e4", "clip": true}, "encoding": {"y": {"field": "v", "type": "quantitative", "stack": null}, "y2": {"field": "v2"}, "detail": {"field": "g"}}},
        {"data": {"values": [{"k":1,"t":333.7,"v":127.17},{"k":2,"t":333.7,"v":-273.92}]}, "mark": {"type": "line", "stroke": "#4d4d4d", "strokeWidth": 1.5}, "encoding": {"order": {"field": "k"}}},
        {"data": {"name": "exp"}, "mark": {"type": "line", "stroke": "#000000", "strokeWidth": 5.5, "interpolate": "monotone", "strokeJoin": "round", "strokeCap": "round"}},
        {"data": {"values": [{"t":0.2,"v":-2.9},{"t":1.6,"v":-1.4},{"t":3.0,"v":-3.3},{"t":4.5,"v":-1.9},{"t":6.1,"v":-2.6},{"t":7.4,"v":-0.9},{"t":9.0,"v":-3.1},{"t":10.6,"v":-2.2},{"t":12.1,"v":-1.5},{"t":13.5,"v":-3.4},{"t":15.2,"v":-2.0},{"t":16.7,"v":-2.7},{"t":18.1,"v":-1.3},{"t":19.8,"v":-3.0},{"t":21.4,"v":-2.1},{"t":22.9,"v":-3.6},{"t":24.6,"v":-1.8},{"t":26.5,"v":-2.2},{"t":28.3,"v":-13.8},{"t":30.1,"v":-57.3},{"t":31.9,"v":-111.6},{"t":33.7,"v":-166},{"t":35.5,"v":-213},{"t":36.2,"v":-205},{"t":36.8,"v":-234.8},{"t":37.5,"v":-215},{"t":38.2,"v":-202.2},{"t":39.7,"v":-129.7},{"t":40.9,"v":-57.3},{"t":42.8,"v":-17.4},{"t":44.6,"v":-8.4},{"t":46.4,"v":-13.8},{"t":49.1,"v":-35.5},{"t":50.9,"v":-53.6},{"t":52.3,"v":-71.7},{"t":53.1,"v":-84.5},{"t":54.2,"v":-64.5},{"t":55.4,"v":-39.1},{"t":57.2,"v":-13.8},{"t":59.1,"v":-2.9},{"t":61,"v":-0.4},{"t":62.5,"v":-1.8},{"t":63.6,"v":-1.1},{"t":63.9,"v":-6.5},{"t":64.3,"v":-0.8},{"t":65.9,"v":0.9},{"t":67.4,"v":-1.3},{"t":69.0,"v":0.4},{"t":70.6,"v":-0.7},{"t":72.1,"v":1.1},{"t":73.7,"v":-1.9},{"t":75.3,"v":0.2},{"t":76.8,"v":0.9},{"t":78.4,"v":-1.0},{"t":80.0,"v":1.3},{"t":81.5,"v":-0.4},{"t":83.1,"v":0.6},{"t":84.7,"v":-2.2},{"t":86.2,"v":1.0},{"t":87.8,"v":-0.3},{"t":89.4,"v":1.5},{"t":90.9,"v":-0.9},{"t":92.5,"v":0.7},{"t":94.1,"v":1.6},{"t":95.6,"v":-0.5},{"t":97.2,"v":0.8},{"t":98.8,"v":-1.6},{"t":100.3,"v":1.2},{"t":101.9,"v":0.1},{"t":103.5,"v":1.9},{"t":105.0,"v":-0.6},{"t":106.6,"v":1.0},{"t":108.2,"v":0.3},{"t":109.7,"v":1.7},{"t":111.3,"v":-1.2},{"t":112.9,"v":1.4},{"t":114.4,"v":0.2},{"t":116.0,"v":2.0},{"t":117.6,"v":0.6},{"t":119.1,"v":1.1},{"t":120.7,"v":-0.8},{"t":122.3,"v":1.8},{"t":123.8,"v":0.4},{"t":125.4,"v":2.1},{"t":127.0,"v":0.9},{"t":128.5,"v":1.5},{"t":130.1,"v":-0.5},{"t":131.7,"v":2.3},{"t":133.2,"v":0.7},{"t":134.8,"v":1.8},{"t":136.4,"v":-1.4},{"t":137.9,"v":2.0},{"t":139.5,"v":1.1},{"t":141.1,"v":2.6},{"t":142.6,"v":0.5},{"t":144.2,"v":1.9},{"t":145.8,"v":0.9},{"t":147.3,"v":2.7},{"t":148.9,"v":-0.2},{"t":150.5,"v":2.2},{"t":152.0,"v":1.0},{"t":153.6,"v":2.9},{"t":155.2,"v":1.2},{"t":156.7,"v":2.4},{"t":158.3,"v":-0.6},{"t":159.9,"v":2.8},{"t":161.4,"v":1.3},{"t":163.0,"v":3.1},{"t":164.6,"v":1.5},{"t":166.1,"v":2.5},{"t":167.7,"v":0.4},{"t":169.3,"v":3.2},{"t":170.8,"v":1.6},{"t":172.4,"v":2.7},{"t":174.0,"v":0.9},{"t":175.5,"v":3.4},{"t":177.1,"v":1.8},{"t":178.7,"v":3.0},{"t":180.2,"v":0.6},{"t":181.8,"v":3.5},{"t":183.4,"v":1.2},{"t":184.4,"v":2.0},{"t":185.0,"v":-10.1},{"t":185.8,"v":1.5},{"t":186.9,"v":4.4},{"t":188.0,"v":-0.5},{"t":189.1,"v":5.2},{"t":190.2,"v":-2.0},{"t":191.3,"v":5.5},{"t":192.4,"v":0.3},{"t":193.5,"v":5.8},{"t":194.6,"v":1.2},{"t":195.7,"v":4.9},{"t":196.6,"v":2.0},{"t":197.7,"v":4.3}]}, "mark": {"type": "line", "stroke": "#ec3323", "strokeWidth": 1.8}},
        {"data": {"values": [{"k":1,"t":211.8,"v":-105.1},{"k":2,"t":211.8,"v":-155.1},{"k":3,"t":236.8,"v":-155.1}]}, "mark": {"type": "line", "stroke": "#333333", "strokeWidth": 1.2}, "encoding": {"order": {"field": "k"}}},
        {"data": {"values": [{"s":"T","t":23.4,"v":-166},{"s":"C","t":56.7,"v":-86.2},{"s":"D","t":131.1,"v":-146},{"s":"50 µV","t":230.5,"v":-129.7},{"s":"25 ms","t":229.9,"v":-175}]}, "mark": {"type": "text", "fontSize": 18, "color": "#111111", "baseline": "middle"}, "encoding": {"text": {"field": "s"}}},
        {"data": {"values": [{"s":"f","t":-3.3,"v":-232.6}]}, "mark": {"type": "text", "fontSize": 20, "fontWeight": "bold", "color": "#000000", "baseline": "middle"}, "encoding": {"text": {"field": "s"}}}
      ]
    }
  ]
}
